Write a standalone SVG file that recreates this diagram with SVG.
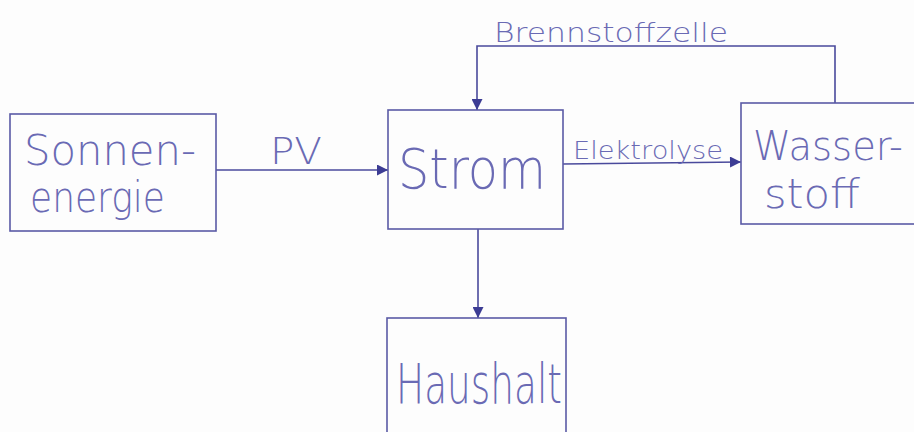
<svg xmlns="http://www.w3.org/2000/svg" width="914" height="432" viewBox="0 0 914 432">
<defs>
<style>
.box{fill:none;stroke:#5a5aa6;stroke-width:1.6}
.ln{fill:none;stroke:#4a4a9c;stroke-width:1.6}
.t{font-family:"DejaVu Sans","Liberation Sans",sans-serif;font-weight:200;fill:#6a6ab4}
</style>
<marker id="ah" viewBox="0 0 10 10" refX="10" refY="5" markerWidth="12" markerHeight="11" markerUnits="userSpaceOnUse" orient="auto">
<path d="M0,0 L10,5 L0,10 z" fill="#3c3c94"/>
</marker>
</defs>
<rect width="914" height="432" fill="#fdfdfd"/>
<g id="connectors">
<line class="ln" x1="216" y1="170" x2="388" y2="170" marker-end="url(#ah)"/>
<line class="ln" x1="563" y1="164" x2="741" y2="162" marker-end="url(#ah)"/>
<polyline class="ln" points="835,103 835,46 477,46 477,110" marker-end="url(#ah)"/>
<line class="ln" x1="478" y1="229" x2="478" y2="318" marker-end="url(#ah)"/>
<text class="t" x="270" y="164" font-size="38" textLength="52" lengthAdjust="spacingAndGlyphs">PV</text>
<text class="t" x="573" y="159" font-size="24" textLength="150" lengthAdjust="spacingAndGlyphs">Elektrolyse</text>
<text class="t" x="494" y="42" font-size="27" textLength="234" lengthAdjust="spacingAndGlyphs">Brennstoffzelle</text>
</g>
<g id="sonnenenergie">
<rect class="box" x="10" y="114" width="206" height="117"/>
<text class="t" x="24" y="165" font-size="42" textLength="172" lengthAdjust="spacingAndGlyphs">Sonnen-</text>
<text class="t" x="30" y="212" font-size="42" textLength="135" lengthAdjust="spacingAndGlyphs">energie</text>
</g>
<g id="strom">
<rect class="box" x="388" y="110" width="175" height="119"/>
<text class="t" x="398" y="188" font-size="56" textLength="148" lengthAdjust="spacingAndGlyphs">Strom</text>
</g>
<g id="wasserstoff">
<rect class="box" x="741" y="103" width="180" height="121"/>
<text class="t" x="753" y="160" font-size="40" textLength="150" lengthAdjust="spacingAndGlyphs">Wasser-</text>
<text class="t" x="764" y="208" font-size="40" textLength="96" lengthAdjust="spacingAndGlyphs">stoff</text>
</g>
<g id="haushalt">
<rect class="box" x="387" y="318" width="179" height="120"/>
<text class="t" x="396" y="403" font-size="56" textLength="166" lengthAdjust="spacingAndGlyphs">Haushalt</text>
</g>
</svg>
